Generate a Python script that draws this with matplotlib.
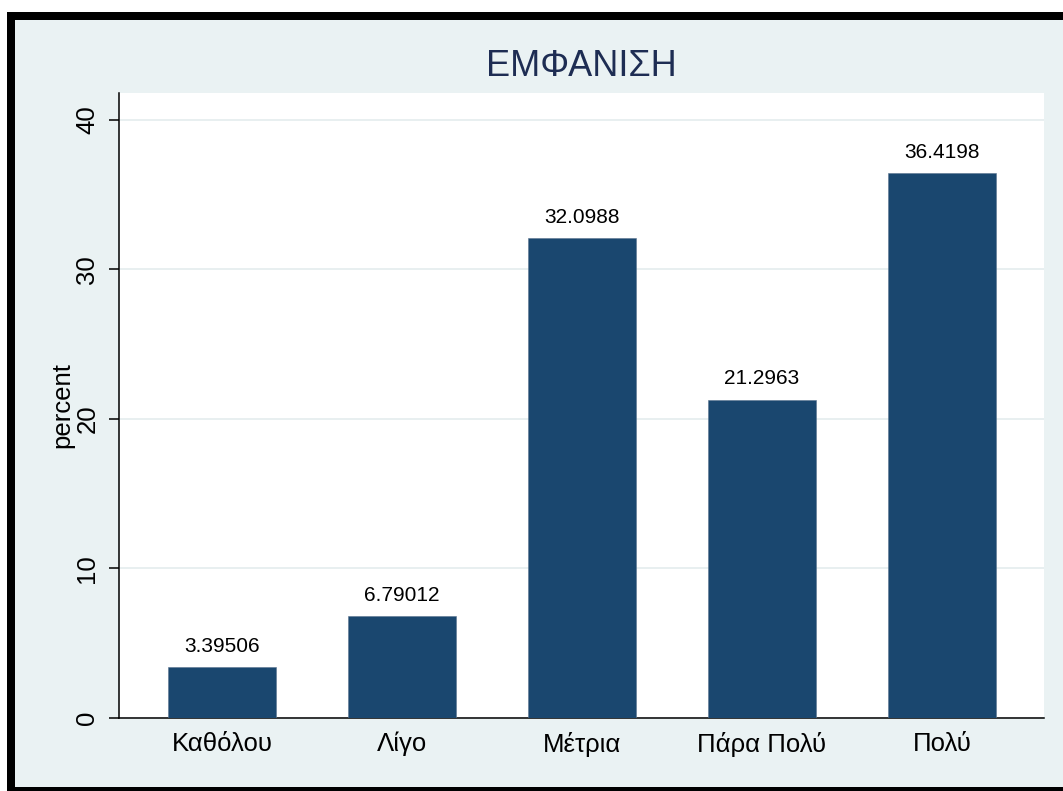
import matplotlib
matplotlib.use("Agg")
import matplotlib.pyplot as plt
from matplotlib.patches import Rectangle

categories = ["Καθόλου", "Λίγο", "Μέτρια", "Πάρα Πολύ", "Πολύ"]
percent = [3.39506, 6.79012, 32.0988, 21.2963, 36.4198]
yticks = [0, 10, 20, 30, 40]
title = "ΕΜΦΑΝΙΣΗ"
ylabel = "percent"

W, H = 1063, 791
plt.rcParams['font.family'] = ['Liberation Sans', 'DejaVu Sans']

fig = plt.figure(figsize=(W / 100, H / 100), dpi=100)
fig.patch.set_facecolor("white")

# outer frame (graph region)
fr = Rectangle((11 / W, 0 / H), 1.2, (791 - 16) / H, transform=fig.transFigure,
               facecolor="#EAF2F3", edgecolor="black", linewidth=8 * 72 / 100,
               zorder=-10)
fig.patches.append(fr)

ax = fig.add_axes([119 / W, (H - 718) / H, (1044 - 119) / W, (718 - 93) / H])
ax.set_zorder(1)
ax.set_facecolor("white")

x = list(range(1, len(categories) + 1))
bars = ax.bar(x, percent, width=0.6, color="#1A476F", edgecolor="#5A7590",
              linewidth=0.4, zorder=3)
for xi, v in zip(x, percent):
    ax.annotate(f"{v:g}", (xi, v), xytext=(0, 8), textcoords="offset points",
                ha="center", va="bottom", fontsize=15, color="black", zorder=4)

ax.set_xlim(0.428, 5.567)
ax.set_ylim(0, 41.8)
ax.set_xticks(x)
ax.set_xticklabels(categories, fontsize=18.5)
ax.set_yticks(yticks)
ax.set_yticklabels([str(t) for t in yticks], fontsize=18.5, rotation=90, va="center")
ax.tick_params(axis="x", length=0, pad=10)
ax.tick_params(axis="y", length=7.2, width=1.1, pad=7)

ax.yaxis.grid(True, color="#E4ECEE", linewidth=1.2, zorder=0)
ax.set_axisbelow(True)

for s in ["top", "right"]:
    ax.spines[s].set_visible(False)
for s in ["left", "bottom"]:
    ax.spines[s].set_linewidth(1.1)
    ax.spines[s].set_color("black")

ax.set_ylabel(ylabel, fontsize=18.5, labelpad=1)
ax.set_title(title, fontsize=26, color="#1E2D53", pad=12)

fig.savefig("out.png", dpi=100, facecolor=fig.get_facecolor())
